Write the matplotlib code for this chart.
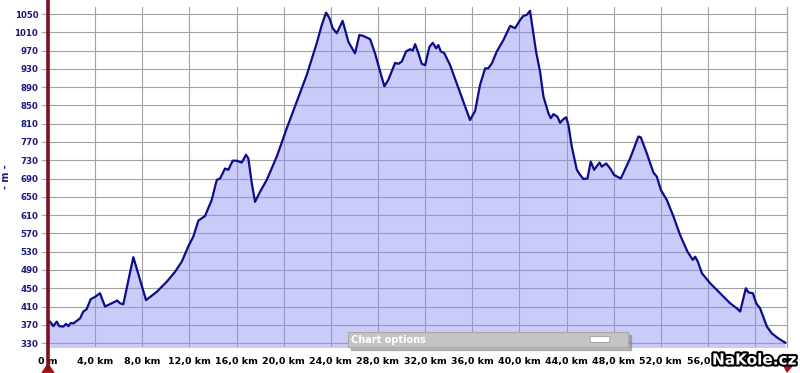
import matplotlib
matplotlib.use("Agg")
import matplotlib.pyplot as plt
import matplotlib.patheffects as pe
from matplotlib.patches import FancyBboxPatch, Rectangle, Polygon

# elevation profile (distance in km, altitude in m)
dist_km = [
    0.0, 0.17, 0.45, 0.74, 0.96, 1.3, 1.53, 1.73, 1.93, 2.15, 2.72, 3.0, 3.28,
    3.62, 3.99, 4.41, 4.84, 5.41, 5.88, 6.11, 6.39, 7.24, 8.32, 9.22, 10.07,
    10.78, 11.35, 11.91, 12.33, 12.76, 13.32, 13.89, 14.32, 14.6, 15.02, 15.3,
    15.67, 16.01, 16.44, 16.8, 17.0, 17.29, 17.57, 17.99, 18.56, 19.41, 20.26,
    21.1, 21.96, 22.8, 23.23, 23.59, 23.88, 24.16, 24.5, 25.0, 25.49, 26.05,
    26.42, 26.76, 27.33, 27.75, 28.18, 28.54, 28.88, 29.45, 29.73, 30.02,
    30.38, 30.72, 30.95, 31.15, 31.43, 31.71, 32.0, 32.36, 32.65, 32.93,
    33.12, 33.33, 33.61, 34.12, 34.68, 35.25, 35.81, 36.24, 36.66, 37.09,
    37.35, 37.66, 38.08, 38.64, 39.21, 39.63, 40.06, 40.34, 40.62, 40.9,
    41.41, 41.75, 42.04, 42.46, 42.66, 42.89, 43.23, 43.45, 43.73, 43.96,
    44.16, 44.44, 44.87, 45.15, 45.43, 45.77, 46.05, 46.34, 46.79, 46.99,
    47.36, 47.7, 48.03, 48.6, 49.39, 50.1, 50.3, 50.81, 51.37, 51.66, 52.0,
    52.51, 53.07, 53.64, 54.26, 54.71, 54.91, 55.14, 55.48, 56.18, 57.03,
    57.88, 58.45, 58.73, 59.21, 59.43, 59.81, 60.09, 60.42, 61.0, 61.42,
    61.98, 62.55,
]
alt_m = [
    377, 377, 367, 377, 367, 366, 372, 367, 374, 373, 384, 399, 404,
    426, 431, 439, 410, 417, 423, 417, 415, 518, 424, 442, 464,
    486, 508, 542, 563, 598, 608, 643, 687, 690, 712, 709,
    729, 729, 725, 742, 734, 680, 639, 661, 687, 738, 800,
    858, 917, 986, 1026, 1053, 1041, 1019, 1008, 1035, 989, 964,
    1004, 1002, 995, 964, 924, 892, 906, 943, 941, 946,
    968, 973, 970, 984, 964, 941, 938, 978, 987, 975,
    982, 968, 965, 938, 898, 858, 818, 838, 895, 931,
    931, 942, 968, 993, 1024, 1019, 1037, 1046, 1048, 1057,
    968, 924, 869, 833, 822, 831, 825, 812, 820, 824,
    807, 760, 709, 698, 689, 690, 727, 709, 725, 716,
    723, 712, 698, 690, 734, 782, 780, 745, 703, 694, 665,
    643, 607, 566, 530, 512, 519, 508, 483, 461, 439,
    417, 406, 399, 450, 441, 439, 417, 406, 366, 351,
    340, 331,
]

y_ticks = list(range(330, 1051, 40))
x_ticks = list(range(0, 61, 4))
x_labels = ["0 m"] + [f"{k},0 km" for k in x_ticks[1:-1]] + [""]

LINE = "#0c0c8c"
NAVY = "#1a1a80"
AXIS_RED = "#7a1020"

fig = plt.figure(figsize=(8.0, 3.73), dpi=100)
ax = fig.add_axes([0.06, 0.0697, 0.924, 0.9115])
ax.set_xlim(0, 62.72)
ax.set_ylim(321.4, 1065.3)

ax.set_xticks(x_ticks)
ax.set_xticklabels(x_labels, fontsize=6.8, fontweight="bold", color="black")
ax.set_yticks(y_ticks)
ax.set_yticklabels([str(v) for v in y_ticks], fontsize=6.2, fontweight="bold", color=NAVY)
ax.tick_params(axis="y", length=5, width=0.8, color="#aaaaaa", pad=2)
ax.tick_params(axis="x", length=0, pad=7)
ax.grid(True, color="#a2a2a2", linewidth=0.8, zorder=0)
ax.set_axisbelow(True)
for side in ["top", "bottom", "left"]:
    ax.spines[side].set_visible(False)
ax.spines["right"].set_color("#a2a2a2")
ax.spines["right"].set_linewidth(0.9)

ax.fill_between(dist_km, alt_m, 300, color="#8c8cf4", alpha=0.45, linewidth=0, zorder=1)
ax.plot(dist_km, alt_m, color=LINE, linewidth=1.6, zorder=3, solid_joinstyle="round")

ax.set_ylabel("- m -", fontsize=7, fontweight="bold", color=NAVY)
ax.yaxis.set_label_coords(-0.05, 0.5)

# red distance axis marker at start, with arrows at bottom
fig.add_artist(plt.Line2D([48 / 800, 48 / 800], [0.012, 1.0], color=AXIS_RED,
                          linewidth=2.6, transform=fig.transFigure))
fig.add_artist(Polygon([[42 / 800, 0.0], [54 / 800, 0.0], [48 / 800, 1 - 364 / 373]],
                       closed=True, color="#b01020", transform=fig.transFigure))
fig.add_artist(Polygon([[781 / 800, 1 - 360 / 373], [792 / 800, 1 - 366 / 373], [787 / 800, 1 - 372 / 373]],
                       closed=True, color="#b01020", transform=fig.transFigure))

# "Chart options" bar
fig.add_artist(Rectangle((351 / 800, 1 - 350 / 373), 280 / 800, 15 / 373,
                         color="#888888", alpha=0.6, transform=fig.transFigure, zorder=5))
fig.add_artist(Rectangle((348 / 800, 1 - 347 / 373), 280 / 800, 15 / 373,
                         facecolor="#c4c4c4", edgecolor="#a8a8a8", linewidth=0.8,
                         transform=fig.transFigure, zorder=6))
fig.text(351 / 800, 1 - 340 / 373, "Chart options", fontsize=7, fontweight="bold",
         color="white", va="center", ha="left", zorder=7)
fig.add_artist(FancyBboxPatch((591 / 800, 1 - 342 / 373), 18 / 800, 5 / 373,
                              boxstyle="round,pad=0.001", facecolor="white",
                              edgecolor="#999999", linewidth=0.6,
                              transform=fig.transFigure, zorder=7))

# site logo
fig.text(796 / 800, 1 - 360 / 373, "NaKole.cz", fontsize=11, fontweight="bold",
         color="white", ha="right", va="center", zorder=8,
         path_effects=[pe.withStroke(linewidth=3, foreground="black")])

fig.savefig("out.png", dpi=100)
